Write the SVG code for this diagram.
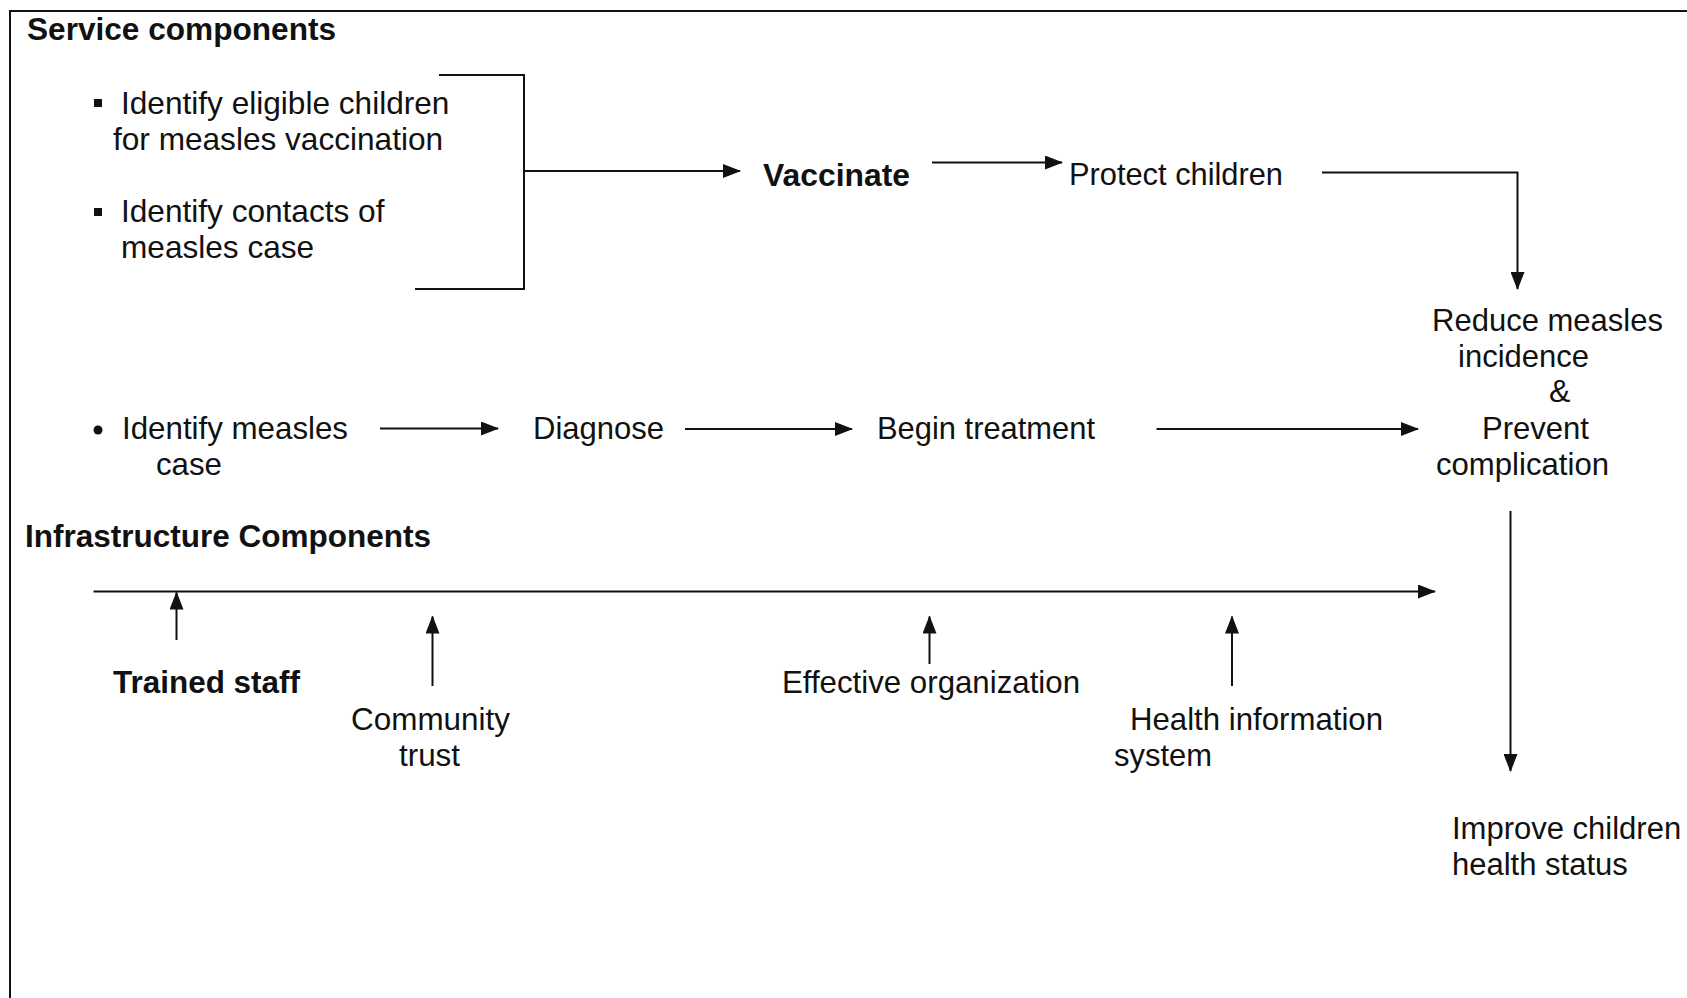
<svg xmlns="http://www.w3.org/2000/svg" width="1687" height="998" viewBox="0 0 1687 998">
  <defs>
    <marker id="arrow" markerUnits="userSpaceOnUse" markerWidth="18" markerHeight="14" refX="17" refY="7" orient="auto">
      <path d="M0,0 L18,7 L0,14 Z" fill="#111"/>
    </marker>
    <style>
      text { font-family: "Liberation Sans", Arial, sans-serif; fill: #111; }
      .reg { font-size: 31.6px; }
      .sm { font-size: 31px; }
      .nar { font-size: 32px; }
      .bold { font-weight: bold; }
      .line { fill: none; stroke: #111; stroke-width: 2; }
      .arr { fill: none; stroke: #111; stroke-width: 2; marker-end: url(#arrow); }
    </style>
  </defs>
  <rect width="1687" height="998" fill="#fff"/>

  <!-- frame: top and left edges only -->
  <path class="line" d="M10,998 V11 H1687"/>

  <!-- section headings -->
  <g id="heading-service">
    <text class="reg bold" x="27" y="40">Service components</text>
  </g>
  <g id="heading-infrastructure">
    <text class="nar bold" x="25" y="547" textLength="406" lengthAdjust="spacingAndGlyphs">Infrastructure Components</text>
  </g>

  <!-- service components -->
  <g id="identify-eligible">
    <rect x="94" y="99" width="8" height="8" fill="#111"/>
    <text class="reg" x="121" y="114">Identify eligible children</text>
    <text class="reg" x="113" y="150">for measles vaccination</text>
  </g>
  <g id="identify-contacts">
    <rect x="94" y="208" width="8" height="8" fill="#111"/>
    <text class="reg" x="121" y="222">Identify contacts of</text>
    <text class="reg" x="121" y="258">measles case</text>
  </g>
  <g id="vaccinate">
    <text class="nar bold" x="763" y="186" textLength="147" lengthAdjust="spacingAndGlyphs">Vaccinate</text>
  </g>
  <g id="protect-children">
    <text class="nar" x="1069" y="185" textLength="214" lengthAdjust="spacingAndGlyphs">Protect children</text>
  </g>
  <g id="reduce-prevent">
    <text class="nar" x="1432" y="331" textLength="231" lengthAdjust="spacingAndGlyphs">Reduce measles</text>
    <text class="nar" x="1458" y="367" textLength="131" lengthAdjust="spacingAndGlyphs">incidence</text>
    <text class="nar" x="1549" y="402">&amp;</text>
    <text class="nar" x="1482" y="439" textLength="107" lengthAdjust="spacingAndGlyphs">Prevent</text>
    <text class="nar" x="1436" y="475" textLength="173" lengthAdjust="spacingAndGlyphs">complication</text>
  </g>
  <g id="identify-case">
    <circle cx="98" cy="430" r="4.5" fill="#111"/>
    <text class="nar" x="122" y="439" textLength="226" lengthAdjust="spacingAndGlyphs">Identify measles</text>
    <text class="nar" x="156" y="475" textLength="66" lengthAdjust="spacingAndGlyphs">case</text>
  </g>
  <g id="diagnose">
    <text class="nar" x="533" y="439" textLength="131" lengthAdjust="spacingAndGlyphs">Diagnose</text>
  </g>
  <g id="begin-treatment">
    <text class="nar" x="877" y="439" textLength="218" lengthAdjust="spacingAndGlyphs">Begin treatment</text>
  </g>
  <g id="improve-health">
    <text class="sm" x="1452" y="839">Improve children</text>
    <text class="sm" x="1452" y="875">health status</text>
  </g>

  <!-- infrastructure components -->
  <g id="trained-staff">
    <text class="nar bold" x="113" y="693" textLength="187" lengthAdjust="spacingAndGlyphs">Trained staff</text>
  </g>
  <g id="community-trust">
    <text class="nar" x="351" y="730" textLength="159" lengthAdjust="spacingAndGlyphs">Community</text>
    <text class="nar" x="399" y="766" textLength="61" lengthAdjust="spacingAndGlyphs">trust</text>
  </g>
  <g id="effective-organization">
    <text class="nar" x="782" y="693" textLength="298" lengthAdjust="spacingAndGlyphs">Effective organization</text>
  </g>
  <g id="health-information">
    <text class="nar" x="1130" y="730" textLength="253" lengthAdjust="spacingAndGlyphs">Health information</text>
    <text class="nar" x="1114" y="766" textLength="98" lengthAdjust="spacingAndGlyphs">system</text>
  </g>

  <!-- connectors -->
  <g id="connectors">
    <path class="line" d="M439,75 H524 V289 H415"/>
    <path class="arr" d="M524,171 H740"/>
    <path class="arr" d="M932,162.5 H1062"/>
    <path class="arr" d="M1322,172.5 H1517.5 V289"/>
    <path class="arr" d="M380,428.5 H498"/>
    <path class="arr" d="M685,429 H852"/>
    <path class="arr" d="M1156.5,429 H1418"/>
    <path class="arr" d="M1510.5,511 V771"/>
    <path class="arr" d="M93.5,591.5 H1435"/>
    <path class="arr" d="M176.5,640 V592.5"/>
    <path class="arr" d="M432.5,686 V616.5"/>
    <path class="arr" d="M929.5,664 V616.5"/>
    <path class="arr" d="M1232,686 V616.5"/>
  </g>
</svg>
